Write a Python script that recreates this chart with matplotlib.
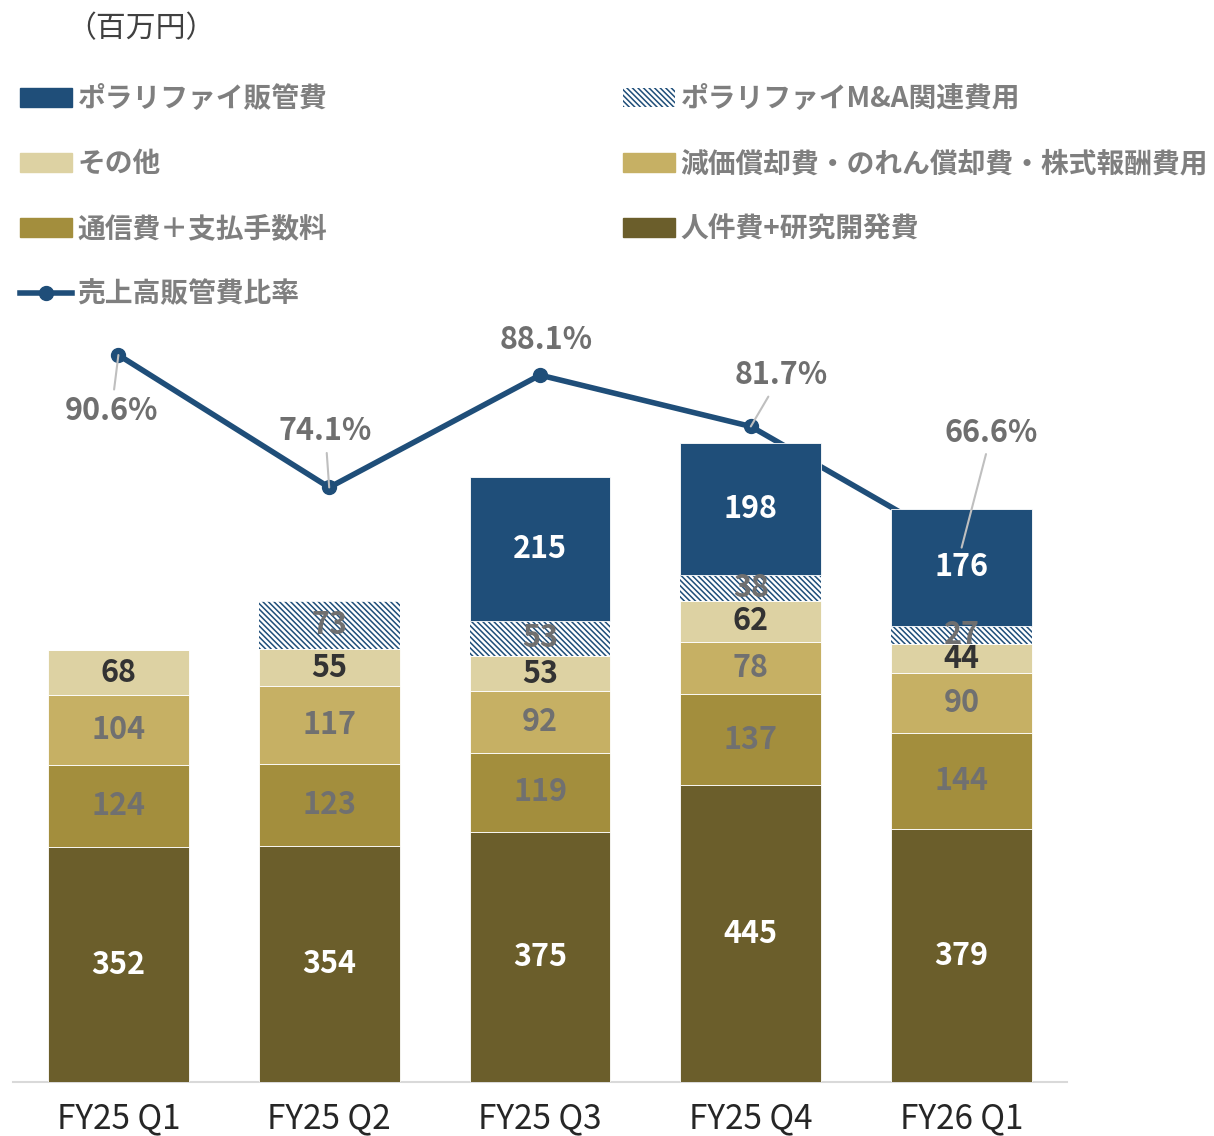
import numpy as np
import matplotlib
matplotlib.use('Agg')
import matplotlib.pyplot as plt
from matplotlib.patches import Patch
from matplotlib.lines import Line2D

plt.rcParams['font.family'] = ['Noto Sans CJK JP', 'DejaVu Sans']
plt.rcParams['hatch.linewidth'] = 1.1

# データ（百万円）
categories = ['FY25 Q1', 'FY25 Q2', 'FY25 Q3', 'FY25 Q4', 'FY26 Q1']
jinkenhi = [352, 354, 375, 445, 379]        # 人件費+研究開発費
tsushinhi = [124, 123, 119, 137, 144]       # 通信費＋支払手数料
genka = [104, 117, 92, 78, 90]              # 減価償却費・のれん償却費・株式報酬費用
sonota = [68, 55, 53, 62, 44]               # その他
polarify_ma = [0, 73, 53, 38, 27]           # ポラリファイM&A関連費用
polarify_sga = [0, 0, 215, 198, 176]        # ポラリファイ販管費
sga_ratio = [90.6, 74.1, 88.1, 81.7, 66.6]  # 売上高販管費比率（%）

NAVY = '#1F4E79'
HATCH = '\\' * 6
series = [
    (jinkenhi, '人件費+研究開発費', '#6B5E2B', 'white', None),
    (tsushinhi, '通信費＋支払手数料', '#A38E3D', '#707070', None),
    (genka, '減価償却費・のれん償却費・株式報酬費用', '#C6B064', '#707070', None),
    (sonota, 'その他', '#DDD2A3', '#333333', None),
    (polarify_ma, 'ポラリファイM&A関連費用', 'white', '#6F6F6F', HATCH),
    (polarify_sga, 'ポラリファイ販管費', NAVY, 'white', None),
]

fig = plt.figure(figsize=(12.14, 11.36), dpi=100)
ax = fig.add_axes([13 / 1214, 1 - 1082 / 1136, 1054 / 1214, 752 / 1136])
axb = ax.twinx()

x = np.arange(len(categories))
width = 0.668

# 比率の折れ線（棒の後ろ）
ax.plot(x, sga_ratio, color=NAVY, lw=4, marker='o', ms=10, zorder=2)
ax.set_ylim(0, 93.72)
ax.set_xlim(-0.5, len(categories) - 0.5)

bottom = np.zeros(len(categories))
handles = {}
for vals, name, color, tcolor, hatch in series:
    vals = np.array(vals, dtype=float)
    if hatch:
        axb.bar(x, vals, width, bottom=bottom, color='white',
                edgecolor=NAVY, hatch=hatch, linewidth=0, zorder=3)
        handles[name] = Patch(facecolor='white', edgecolor=NAVY, hatch=hatch, linewidth=0)
    else:
        axb.bar(x, vals, width, bottom=bottom, color=color,
                edgecolor='white', linewidth=0.6, zorder=3)
        handles[name] = Patch(facecolor=color, edgecolor=color)
    for xi, b, v in zip(x, bottom, vals):
        if v > 0:
            axb.text(xi, b + v / 2, f'{int(v)}', ha='center', va='center',
                     fontsize=22, fontweight='bold', color=tcolor, zorder=5)
    bottom += vals

axb.set_ylim(0, 1128)

# 比率ラベル
label_offsets = [(-7, -56, True), (-4, 56, True), (6, 35, False), (30, 51, True), (30, 115, True)]
for xi, v, (dx, dy, leader) in zip(x, sga_ratio, label_offsets):
    arrow = dict(arrowstyle='-', color='#BFBFBF', lw=1.5, shrinkA=2, shrinkB=0) if leader else None
    axb.annotate(f'{v:.1f}%', xy=(xi, v), xycoords=ax.transData,
                 xytext=(dx, dy), textcoords='offset pixels',
                 ha='center', va='center', fontsize=22, fontweight='bold',
                 color='#6F6F6F', arrowprops=arrow, zorder=6)

for a in (ax, axb):
    for s in ['top', 'right', 'left']:
        a.spines[s].set_visible(False)
    a.set_yticks([])
axb.spines['bottom'].set_visible(False)
ax.spines['bottom'].set_color('#D9D9D9')
ax.spines['bottom'].set_linewidth(1.5)
ax.set_xticks(x)
ax.set_xticklabels(categories, fontsize=24, color='#262626')
ax.tick_params(axis='x', length=0, pad=14)

line_handle = Line2D([0], [0], color=NAVY, lw=4, marker='o', ms=10)

leg_kw = dict(frameon=False, fontsize=20, handlelength=1.87, handleheight=0.65,
              handletextpad=0.2, labelspacing=1.34, borderaxespad=0, borderpad=0)
col1 = ['ポラリファイ販管費', 'その他', '通信費＋支払手数料']
col2 = ['ポラリファイM&A関連費用', '減価償却費・のれん償却費・株式報酬費用', '人件費+研究開発費']
leg1 = fig.legend([handles[n] for n in col1] + [line_handle], col1 + ['売上高販管費比率'],
                  loc='upper left', bbox_to_anchor=(20 / 1214, 1 - 85 / 1136), **leg_kw)
leg2 = fig.legend([handles[n] for n in col2], col2,
                  loc='upper left', bbox_to_anchor=(623 / 1214, 1 - 85 / 1136), **leg_kw)
for leg in (leg1, leg2):
    for t in leg.get_texts():
        t.set_color('#7F7F7F')
        t.set_fontweight('bold')

fig.text(66 / 1214, 1 - 29 / 1136, '（百万円）', fontsize=21.5, color='#404040',
         ha='left', va='center')

fig.savefig('out.png', dpi=100)
